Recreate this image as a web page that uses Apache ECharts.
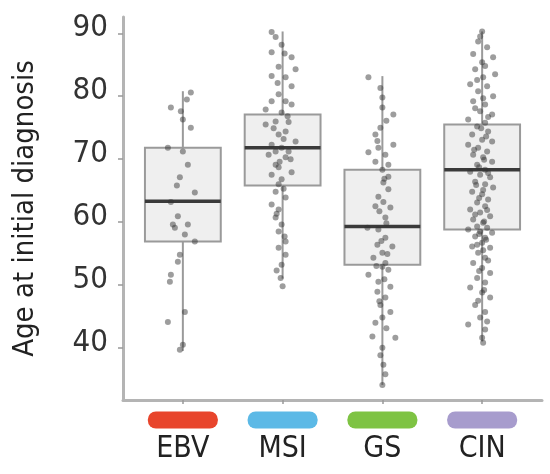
<!DOCTYPE html>
<html>
<head>
<meta charset="utf-8">
<script src="https://cdn.jsdelivr.net/npm/echarts@6/dist/echarts.min.js"></script>
<style>
  html, body { margin: 0; padding: 0; background: #fff; }
  #chart { width: 550px; height: 474px; }
</style>
</head>
<body>
<div id="chart"></div>
<script>
// subtypes along x
const categories = ['EBV', 'MSI', 'GS', 'CIN'];
const pillColors = ['#e8452c', '#5cb9e6', '#7ec343', '#a79ccd'];
const yTicks = [40, 50, 60, 70, 80, 90];

// box stats: [min, q1, median, q3, max]
const boxStats = [
  [39.5, 56.9, 63.3, 71.8, 80.8],
  [51.0, 65.8, 71.8, 77.1, 90.3],
  [34.1, 53.2, 59.3, 68.3, 83.2],
  [41.0, 58.8, 68.3, 75.5, 90.3]
];

// jittered points per subtype: [x offset from centre, age]
const ebvPoints = [
  [0.08, 80.6], [-0.12, 78.2], [-0.02, 77.6], [0.00, 76.3], [0.08, 75.0], [-0.15, 71.8],
  [0.00, 71.2], [0.05, 69.1], [-0.03, 67.1], [0.12, 64.7], [-0.12, 63.2], [-0.05, 60.9],
  [-0.10, 59.6], [0.05, 59.6], [-0.08, 59.1], [0.12, 56.9], [-0.03, 54.8], [-0.05, 53.7],
  [-0.12, 51.6], [-0.13, 50.5], [0.02, 45.7], [-0.15, 44.1], [-0.03, 39.7], [0.00, 40.5],
  [0.04, 79.5], [-0.06, 65.8], [0.02, 58.0]
];
const msiPoints = [
  [-0.11, 90.2], [-0.07, 89.4], [-0.01, 88.2], [-0.11, 87.0], [0.09, 86.2], [-0.04, 84.7],
  [0.13, 84.3], [-0.11, 83.2], [0.03, 83.0], [0.09, 81.6], [-0.04, 80.3], [-0.11, 79.2],
  [0.03, 79.2], [0.09, 78.7], [-0.17, 77.9], [-0.01, 77.4], [-0.07, 76.0], [-0.17, 75.5],
  [0.03, 74.4], [-0.04, 73.9], [0.13, 72.8], [-0.11, 72.3], [-0.01, 71.8], [-0.07, 71.2],
  [0.06, 71.2], [-0.14, 70.7], [0.03, 70.3], [-0.07, 69.1], [-0.04, 68.7], [0.09, 67.9],
  [-0.11, 67.5], [-0.01, 66.8], [-0.04, 66.0], [-0.07, 64.8], [0.03, 63.9], [-0.11, 62.8],
  [-0.04, 62.0], [-0.07, 60.7], [-0.01, 59.6], [-0.04, 58.5], [0.03, 56.9], [-0.04, 55.9],
  [0.03, 54.8], [-0.01, 53.2], [-0.02, 51.1], [0.02, 86.8], [-0.05, 82.1], [0.06, 75.9],
  [0.01, 73.2], [0.08, 70.0], [-0.03, 69.6], [0.01, 65.3], [-0.06, 61.3], [0.02, 57.7],
  [-0.06, 52.3], [0.00, 49.8], [0.05, 76.8], [-0.09, 74.9]
];
const gsPoints = [
  [-0.14, 83.0], [0.00, 79.8], [0.00, 78.2], [0.11, 77.1], [-0.02, 75.0], [-0.07, 73.9],
  [0.11, 72.3], [-0.04, 71.8], [-0.14, 71.1], [0.03, 70.7], [-0.07, 69.6], [0.06, 69.1],
  [0.00, 68.3], [0.06, 67.2], [0.01, 66.3], [0.06, 65.2], [-0.04, 64.0], [0.01, 63.2],
  [-0.07, 62.5], [0.08, 62.3], [0.03, 60.7], [-0.15, 59.1], [-0.04, 58.8], [0.03, 57.5],
  [-0.05, 56.4], [0.10, 56.1], [0.00, 55.1], [-0.09, 54.3], [0.03, 53.5], [0.00, 52.9],
  [0.06, 52.4], [-0.14, 51.6], [-0.04, 50.5], [0.08, 49.7], [-0.05, 48.9], [0.03, 48.0],
  [-0.02, 46.8], [0.08, 45.7], [0.00, 44.8], [-0.07, 44.0], [-0.10, 41.8], [0.13, 41.6],
  [0.00, 40.0], [0.01, 37.3], [0.00, 34.1], [-0.02, 81.3], [0.04, 76.1], [-0.05, 72.9],
  [0.02, 66.9], [-0.03, 61.7], [0.04, 59.8], [-0.01, 57.0], [0.05, 54.9], [-0.06, 53.0],
  [0.02, 50.9], [-0.03, 47.4], [0.04, 43.1], [-0.02, 38.8], [0.03, 35.8]
];
const cinPoints = [
  [0.00, 90.3], [-0.04, 88.7], [0.05, 87.8], [-0.09, 86.7], [0.11, 86.2], [0.00, 85.4],
  [-0.07, 84.3], [0.13, 83.5], [0.01, 83.0], [-0.12, 81.9], [0.05, 81.6], [-0.04, 80.8],
  [0.11, 80.0], [-0.09, 79.2], [0.03, 78.7], [-0.02, 77.6], [0.10, 77.1], [-0.14, 76.3],
  [0.03, 75.8], [-0.05, 75.2], [0.06, 74.4], [-0.10, 73.9], [0.00, 73.1], [0.10, 72.8],
  [-0.14, 72.3], [-0.04, 71.8], [0.05, 71.2], [-0.09, 70.7], [0.01, 70.3], [0.10, 69.6],
  [-0.05, 69.1], [0.03, 68.3], [-0.12, 68.0], [-0.02, 67.5], [0.08, 67.1], [-0.07, 66.4],
  [0.03, 66.0], [0.11, 65.5], [-0.10, 64.8], [0.00, 64.4], [0.06, 63.6], [-0.05, 63.1],
  [0.03, 62.5], [-0.12, 62.0], [-0.02, 61.5], [0.08, 60.9], [-0.09, 60.4], [0.01, 59.9],
  [-0.05, 59.3], [0.05, 59.1], [-0.14, 58.8], [-0.02, 58.5], [0.10, 58.3], [-0.07, 57.7],
  [0.03, 57.5], [0.00, 56.7], [-0.10, 56.1], [0.08, 55.9], [-0.04, 55.1], [0.03, 54.3],
  [-0.09, 53.5], [0.00, 52.7], [0.08, 51.9], [-0.05, 51.1], [0.03, 50.4], [-0.12, 49.6],
  [0.00, 48.8], [0.08, 48.0], [-0.07, 46.8], [0.03, 45.7], [-0.02, 44.8], [-0.14, 43.7],
  [0.03, 42.9], [0.00, 41.6], [0.01, 40.8], [-0.02, 89.5], [0.03, 84.8], [-0.05, 82.6],
  [0.01, 79.7], [-0.07, 78.1], [0.06, 76.7], [-0.01, 74.9], [0.04, 73.6], [-0.08, 71.5],
  [0.02, 69.9], [-0.03, 68.7], [0.06, 67.8], [-0.06, 65.9], [0.01, 65.1], [-0.03, 63.8],
  [0.05, 61.9], [-0.07, 61.2], [0.02, 60.1], [-0.03, 58.1], [0.04, 57.2], [-0.05, 56.4],
  [0.01, 55.5], [0.06, 53.9], [-0.03, 52.2], [0.02, 49.2], [-0.04, 47.5], [0.05, 44.2]
];
const pointGroups = [ebvPoints, msiPoints, gsPoints, cinPoints];

const FONT = "'DejaVu Sans Condensed', 'Liberation Sans', sans-serif";

let scatterData = [];
pointGroups.forEach(function (grp, i) {
  grp.forEach(function (p) {
    scatterData.push([i + 1 + p[0], p[1]]);
  });
});

let boxData = boxStats.map(function (s, i) {
  return [i + 1].concat(s);
});

let rich = {
  t: { fontFamily: FONT, fontSize: 30, color: '#222', lineHeight: 30, padding: [6, 0, 0, 0] }
};
categories.forEach(function (c, i) {
  rich['p' + i] = {
    width: 70, height: 17, borderRadius: 8,
    backgroundColor: pillColors[i], lineHeight: 22
  };
});

function renderBox(params, api) {
  let x = api.value(0);
  let lo = api.coord([x, api.value(1)]);
  let q1 = api.coord([x, api.value(2)]);
  let med = api.coord([x, api.value(3)]);
  let q3 = api.coord([x, api.value(4)]);
  let hi = api.coord([x, api.value(5)]);
  let half = api.size([0.38, 0])[0];
  let lineStyle = { stroke: '#9a9a9a', lineWidth: 2 };
  return {
    type: 'group',
    children: [
      { type: 'line', shape: { x1: hi[0], y1: hi[1], x2: q3[0], y2: q3[1] }, style: lineStyle },
      { type: 'line', shape: { x1: q1[0], y1: q1[1], x2: lo[0], y2: lo[1] }, style: lineStyle },
      {
        type: 'rect',
        shape: { x: q3[0] - half, y: q3[1], width: half * 2, height: q1[1] - q3[1] },
        style: { fill: 'rgba(225,225,225,0.55)', stroke: '#9a9a9a', lineWidth: 2 }
      },
      {
        type: 'line',
        shape: { x1: med[0] - half, y1: med[1], x2: med[0] + half, y2: med[1] },
        style: { stroke: '#3a3a3a', lineWidth: 3.5 }
      }
    ]
  };
}

let chart = echarts.init(document.getElementById('chart'));
chart.setOption({
  backgroundColor: '#fff',
  animation: false,
  grid: { left: 123, right: 8, top: 17, bottom: 74, outerBoundsMode: 'none' },
  xAxis: {
    type: 'value',
    min: 0.4,
    max: 4.6,
    splitLine: { show: false },
    axisLine: { show: true, lineStyle: { color: '#b4b4b4', width: 3 } },
    axisTick: { show: true, customValues: [1, 2, 3, 4], length: 4, lineStyle: { color: '#999', width: 1.5 } },
    axisLabel: {
      customValues: [1, 2, 3, 4],
      margin: 9,
      formatter: function (v) {
        let i = Math.round(v) - 1;
        return '{p' + i + '|}\n{t|' + categories[i] + '}';
      },
      rich: rich
    }
  },
  yAxis: {
    type: 'value',
    min: 31.7,
    max: 92.6,
    name: 'Age at initial diagnosis',
    nameLocation: 'middle',
    nameGap: 83,
    nameTextStyle: { fontFamily: FONT, fontSize: 29, color: '#222' },
    splitLine: { show: false },
    axisLine: { show: true, lineStyle: { color: '#b4b4b4', width: 3 } },
    axisTick: { show: true, customValues: yTicks, length: 5, lineStyle: { color: '#999', width: 1.5 } },
    axisLabel: {
      customValues: yTicks,
      margin: 15,
      formatter: function (v) { return '{v|' + v + '}'; },
      rich: {
        v: { fontFamily: FONT, fontSize: 31, color: '#333', padding: [0, 0, 10, 0] }
      }
    }
  },
  series: [
    {
      type: 'custom',
      renderItem: renderBox,
      data: boxData,
      encode: { x: 0, y: [1, 2, 3, 4, 5] },
      z: 1
    },
    {
      type: 'scatter',
      data: scatterData,
      symbolSize: 6,
      itemStyle: { color: 'rgba(50,50,50,0.6)' },
      z: 2
    }
  ]
});
</script>
</body>
</html>
